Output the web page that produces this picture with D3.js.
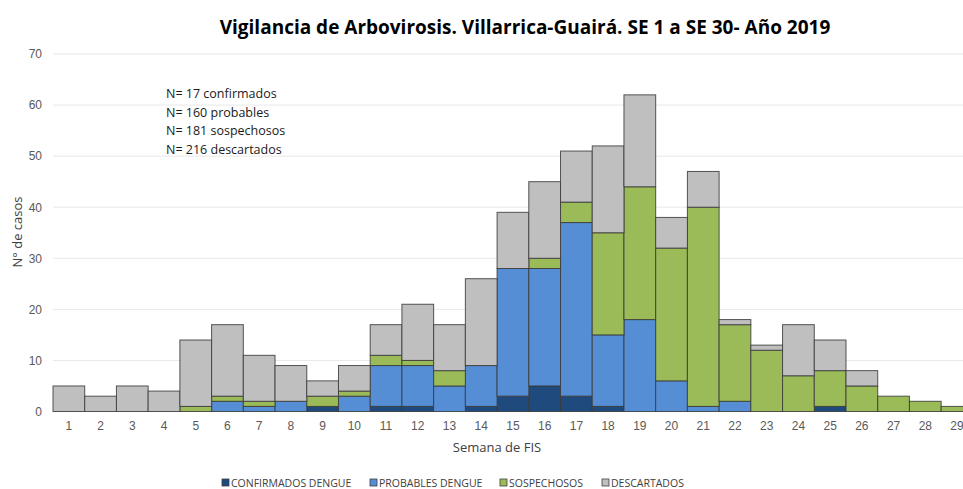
<!DOCTYPE html>
<html>
<head>
<meta charset="utf-8">
<script src="https://cdn.jsdelivr.net/npm/d3@7"></script>
<style>
  body { margin: 0; background: #fff; }
  svg { font-family: "Open Sans", "Noto Sans", sans-serif; }
</style>
</head>
<body>
<svg></svg>
<script>
// semanas epidemiologicas
const semanas = ["1","2","3","4","5","6","7","8","9","10","11","12","13","14","15","16","17","18","19","20","21","22","23","24","25","26","27","28","29"];
const confirmados = [0,0,0,0,0,0,0,0,1,0,1,1,0,1,3,5,3,1,0,0,0,0,0,0,1,0,0,0,0];
const probables   = [0,0,0,0,0,2,1,2,0,3,8,8,5,8,25,23,34,14,18,6,1,2,0,0,0,0,0,0,0];
const sospechosos = [0,0,0,0,1,1,1,0,2,1,2,1,3,0,0,2,4,20,26,26,39,15,12,7,7,5,3,2,1];
const descartados = [5,3,5,4,13,14,9,7,3,5,6,11,9,17,11,15,10,17,18,6,7,1,1,10,6,3,0,0,0];
const yTicks = [0,10,20,30,40,50,60,70];
const series = ["CONFIRMADOS DENGUE","PROBABLES DENGUE","SOSPECHOSOS","DESCARTADOS"];
const colores = ["#1f4a7e","#558ed5","#9bbb59","#bfbfbf"];
const notas = ["N= 17 confirmados","N= 160 probables","N= 181 sospechosos","N= 216 descartados"];

const width = 963, height = 489;
const plotLeft = 53, plotTop = 54, plotBottom = 411.5;
const bandW = 31.72;

const svg = d3.select("svg").attr("width", width).attr("height", height);

// tabla para el stack
const tabla = semanas.map((s, i) => ({
  semana: s,
  c: confirmados[i], p: probables[i], s: sospechosos[i], d: descartados[i]
}));
const keys = ["c","p","s","d"];
const stacked = d3.stack().keys(keys)(tabla);

const x = d3.scaleBand()
  .domain(semanas)
  .range([plotLeft, plotLeft + bandW * semanas.length])
  .padding(0);

const y = d3.scaleLinear()
  .domain([0, 70])
  .range([plotBottom, plotTop]);

// grid
svg.append("g")
  .selectAll("line")
  .data(yTicks)
  .enter()
  .append("line")
  .attr("x1", plotLeft)
  .attr("x2", width)
  .attr("y1", d => y(d))
  .attr("y2", d => y(d))
  .attr("stroke", d => d === 0 ? "#d9d9d9" : "#e8e8e8")
  .attr("stroke-width", 1);

// y axis labels
const yAxis = d3.axisLeft(y).tickValues(yTicks).tickSize(0).tickPadding(11);
svg.append("g")
  .attr("transform", `translate(${plotLeft}, 0)`)
  .call(yAxis)
  .call(g => g.select(".domain").remove())
  .call(g => g.selectAll("text").attr("fill", "#595959").style("font-size", "12px"));

// x axis labels
const xAxis = d3.axisBottom(x).tickSize(0).tickPadding(10);
svg.append("g")
  .attr("transform", `translate(0, ${plotBottom})`)
  .call(xAxis)
  .call(g => g.select(".domain").remove())
  .call(g => g.selectAll("text").attr("fill", "#595959").style("font-size", "12px"));

// bars
svg.append("g")
  .selectAll("g")
  .data(stacked)
  .enter()
  .append("g")
  .attr("fill", (d, i) => colores[i])
  .selectAll("rect")
  .data(d => d.filter(v => v[1] - v[0] > 0))
  .enter()
  .append("rect")
  .attr("x", d => x(d.data.semana))
  .attr("y", d => y(d[1]))
  .attr("width", x.bandwidth())
  .attr("height", d => y(d[0]) - y(d[1]))
  .attr("stroke", "#3a3a3a")
  .attr("stroke-opacity", 0.85)
  .attr("stroke-width", 1);

// titulo
svg.append("text")
  .attr("x", 525)
  .attr("y", 34)
  .attr("text-anchor", "middle")
  .style("font-size", "19px")
  .style("font-weight", "bold")
  .attr("fill", "#000")
  .text("Vigilancia de Arbovirosis. Villarrica-Guairá. SE 1 a SE 30- Año 2019");

// y title
svg.append("text")
  .attr("transform", "rotate(-90)")
  .attr("x", -232)
  .attr("y", 22)
  .attr("text-anchor", "middle")
  .style("font-size", "13px")
  .attr("fill", "#404040")
  .text("N° de casos");

// x title
svg.append("text")
  .attr("x", 497)
  .attr("y", 452)
  .attr("text-anchor", "middle")
  .style("font-size", "13px")
  .attr("fill", "#404040")
  .text("Semana de FIS");

// notas N=
svg.append("g")
  .selectAll("text")
  .data(notas)
  .enter()
  .append("text")
  .attr("x", 166)
  .attr("y", (d, i) => 98 + i * 18.5)
  .style("font-size", "12.5px")
  .attr("fill", "#1a1a1a")
  .text(d => d);

// leyenda
const legX = [222, 370, 500, 602];
const leg = svg.append("g")
  .selectAll("g")
  .data(series)
  .enter()
  .append("g")
  .attr("transform", (d, i) => `translate(${legX[i]}, 483)`);

leg.append("rect")
  .attr("x", 0)
  .attr("y", -4)
  .attr("width", 7)
  .attr("height", 7)
  .attr("fill", (d, i) => colores[i])
  .attr("stroke", "#404040")
  .attr("stroke-width", 0.8);

leg.append("text")
  .attr("x", 9)
  .attr("y", 3.5)
  .style("font-size", "10.5px")
  .attr("fill", "#404040")
  .text(d => d);
</script>
</body>
</html>
